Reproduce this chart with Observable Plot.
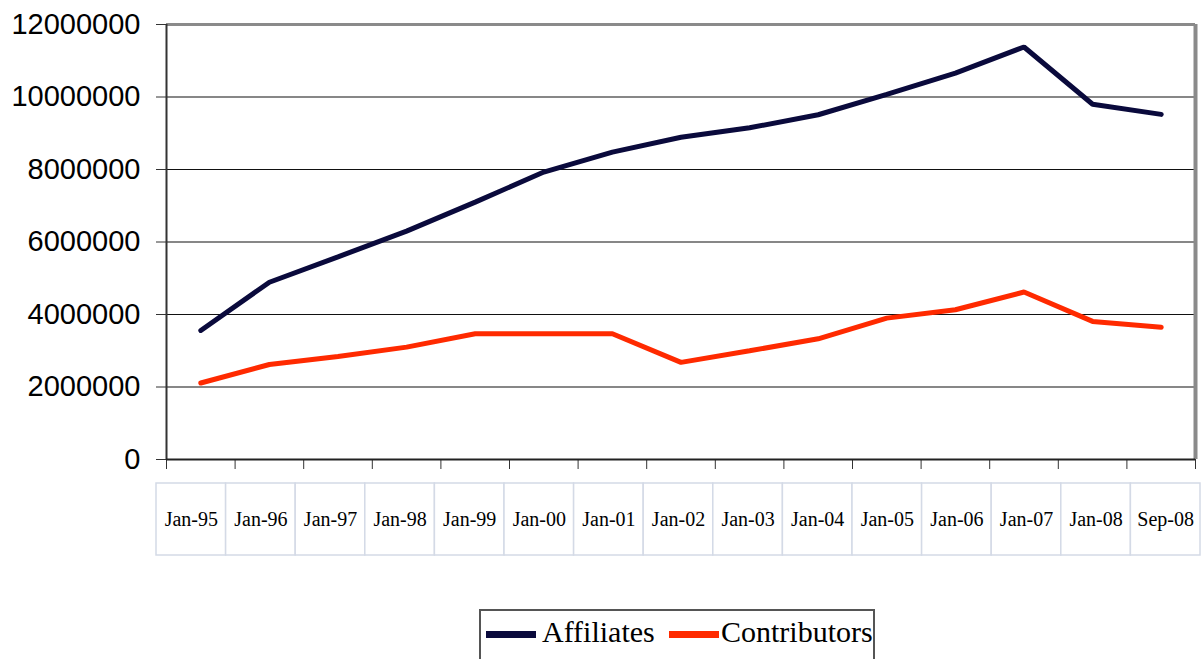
<!DOCTYPE html>
<html>
<head>
<meta charset="utf-8">
<script src="https://cdn.jsdelivr.net/npm/d3@7"></script>
<script src="https://cdn.jsdelivr.net/npm/@observablehq/plot@0.6"></script>
<style>
  html, body { margin: 0; padding: 0; background: #fff; overflow: hidden; }
  #chart svg, #table svg { display: block; }
  #legend {
    position: relative;
    margin-top: 53px;
    margin-left: 479px;
    width: 396px;
    height: 62px;
    box-sizing: border-box;
    border: 2px solid #555;
    font-family: "Liberation Serif", "Times New Roman", serif;
    font-size: 30px;
    color: #000;
  }
  #legend .sw { position: absolute; height: 7px; width: 50px; top: 20px; }
  #legend .lb { position: absolute; top: 4px; line-height: 34px; white-space: nowrap; }
</style>
</head>
<body>
<div id="chart"></div>
<div id="table"></div>
<div id="legend"></div>
<script>
// ---- data ----
const categories = ["Jan-95", "Jan-96", "Jan-97", "Jan-98", "Jan-99", "Jan-00", "Jan-01", "Jan-02",
                    "Jan-03", "Jan-04", "Jan-05", "Jan-06", "Jan-07", "Jan-08", "Sep-08"];
const affiliates = [3560000, 4890000, 5590000, 6300000, 7100000, 7930000, 8480000, 8890000,
                    9150000, 9510000, 10070000, 10660000, 11380000, 9800000, 9520000];
const contributors = [2110000, 2620000, 2840000, 3100000, 3470000, 3470000, 3470000, 2680000,
                      3000000, 3330000, 3900000, 4130000, 4620000, 3810000, 3650000];
const seriesNames = ["Affiliates", "Contributors"];
const seriesColors = ["#0a0a3c", "#ff2a00"];
const yTicks = [0, 2000000, 4000000, 6000000, 8000000, 10000000, 12000000];

// ---- build ----
const n = categories.length;
const seriesValues = [affiliates, contributors];
const rows = seriesNames.flatMap((s, k) => categories.map((c, i) => ({i, cat: c, series: s, value: seriesValues[k][i]})));
const yMax = yTicks[yTicks.length - 1];

const main = Plot.plot({
  width: 1203,
  height: 482,
  marginTop: 24,
  marginBottom: 23,
  marginLeft: 166,
  marginRight: 8,
  style: {fontFamily: "'Liberation Sans', Arial, sans-serif", color: "#000", background: "#fff"},
  x: {domain: [0, n], axis: null},
  y: {domain: [0, yMax], axis: null},
  color: {domain: seriesNames, range: seriesColors},
  marks: [
    Plot.ruleY(yTicks.filter(t => t > 0 && t < yMax), {stroke: "#111", strokeWidth: 1.2}),
    Plot.ruleY([yMax], {stroke: "#8a8a8a", strokeWidth: 3}),
    Plot.ruleX([n], {stroke: "#8a8a8a", strokeWidth: 4}),
    Plot.axisY({ticks: yTicks, tickFormat: d3.format("d"), tickSize: 10, tickPadding: 16,
                fontSize: 29, stroke: "#333", fill: "#000", label: null}),
    Plot.axisX({ticks: d3.range(n + 1), tickFormat: () => "", tickSize: 10, stroke: "#333", label: null}),
    Plot.ruleX([0], {stroke: "#333", strokeWidth: 2}),
    Plot.ruleY([0], {stroke: "#222", strokeWidth: 2}),
    Plot.line(rows, {x: d => d.i + 0.5, y: "value", stroke: "series", z: "series",
                     strokeWidth: 5, strokeLinejoin: "miter"})
  ]
});
document.getElementById("chart").appendChild(main);

const table = Plot.plot({
  width: 1203,
  height: 74,
  marginTop: 1,
  marginBottom: 1,
  marginLeft: 156,
  marginRight: 3,
  style: {background: "#fff"},
  x: {domain: categories, padding: 0, round: false, axis: null},
  marks: [
    Plot.cell(categories, {x: d => d, fill: "#fff", stroke: "#d4dae6", strokeWidth: 1.5, inset: 0}),
    Plot.text(categories, {x: d => d, text: d => d, fontSize: 20,
                           fontFamily: "'Liberation Serif', 'Times New Roman', serif", fill: "#000"})
  ]
});
document.getElementById("table").appendChild(table);

// ---- legend ----
const legend = document.getElementById("legend");
const swLeft = [5, 188];
const lbLeft = [61, 240];
seriesNames.forEach((name, k) => {
  const sw = document.createElement("div");
  sw.className = "sw";
  sw.style.left = swLeft[k] + "px";
  sw.style.background = seriesColors[k];
  legend.appendChild(sw);
  const lb = document.createElement("div");
  lb.className = "lb";
  lb.style.left = lbLeft[k] + "px";
  lb.textContent = name;
  legend.appendChild(lb);
});
</script>
</body>
</html>
